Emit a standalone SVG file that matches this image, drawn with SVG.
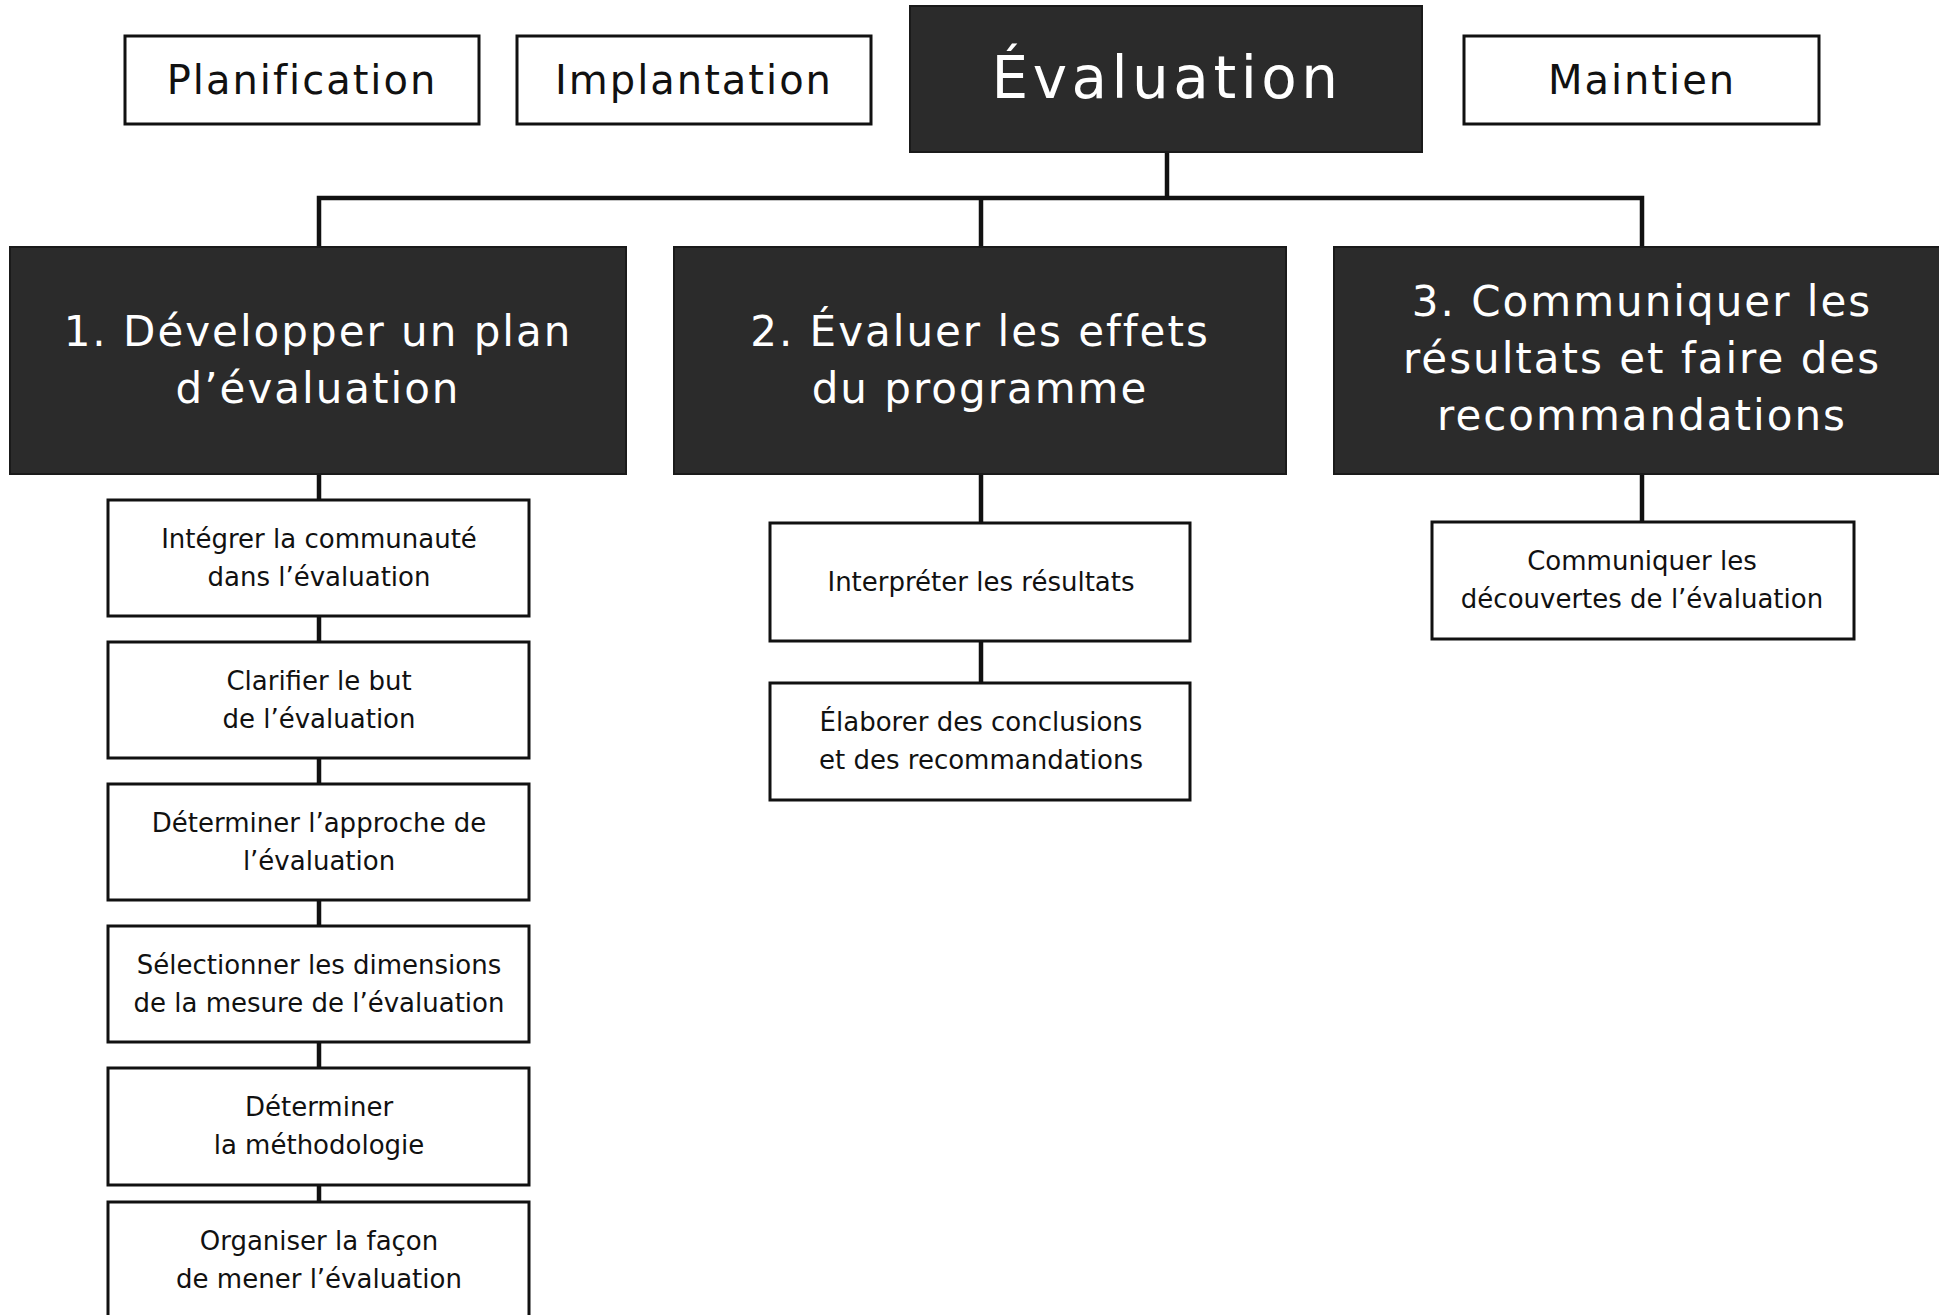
<svg xmlns="http://www.w3.org/2000/svg" width="1939" height="1315" viewBox="0 0 1939 1315">
<style>
.bg{fill:#ffffff}
.ob{fill:#ffffff;stroke:#111;stroke-width:3}
.db{fill:#2b2b2b;stroke:#1a1a1a;stroke-width:2}
.con{stroke:#111;stroke-width:4.5;fill:none}
.top{font-family:"DejaVu Sans",sans-serif;font-size:40px;fill:#111;text-anchor:middle;letter-spacing:2px}
.main{font-family:"DejaVu Sans",sans-serif;font-size:58px;fill:#fff;text-anchor:middle;letter-spacing:4.5px}
.hd{font-family:"DejaVu Sans",sans-serif;font-size:42px;fill:#fff;text-anchor:middle;letter-spacing:2px}
.sm{font-family:"DejaVu Sans",sans-serif;font-size:26px;fill:#111;text-anchor:middle}
</style>
<rect class="bg" x="0" y="0" width="1939" height="1315"/>
<g id="connectors">
<line class="con" x1="1167" y1="152" x2="1167" y2="198"/>
<polyline class="con" points="319,247 319,198 1642,198 1642,247"/>
<line class="con" x1="981" y1="198" x2="981" y2="247"/>
<line class="con" x1="319" y1="474" x2="319" y2="1202"/>
<line class="con" x1="981" y1="474" x2="981" y2="683"/>
<line class="con" x1="1642" y1="474" x2="1642" y2="522"/>
</g>
<g id="planification"><rect class="ob" x="125" y="36" width="354" height="88"/><text class="top" x="302" y="94">Planification</text></g>
<g id="implantation"><rect class="ob" x="517" y="36" width="354" height="88"/><text class="top" x="694" y="94">Implantation</text></g>
<g id="evaluation"><rect class="db" x="910" y="6" width="512" height="146"/><text class="main" x="1167" y="98">Évaluation</text></g>
<g id="maintien"><rect class="ob" x="1464" y="36" width="355" height="88"/><text class="top" x="1642" y="94">Maintien</text></g>
<g id="etape1"><rect class="db" x="10" y="247" width="616" height="227"/><text class="hd" x="318" y="346">1. Développer un plan</text><text class="hd" x="318" y="403">d’évaluation</text></g>
<g id="etape2"><rect class="db" x="674" y="247" width="612" height="227"/><text class="hd" x="980" y="346">2. Évaluer les effets</text><text class="hd" x="980" y="403">du programme</text></g>
<g id="etape3"><rect class="db" x="1334" y="247" width="610" height="227"/><text class="hd" x="1642" y="316">3. Communiquer les</text><text class="hd" x="1642" y="373">résultats et faire des</text><text class="hd" x="1642" y="430">recommandations</text></g>
<g id="b1a"><rect class="ob" x="108" y="500" width="421" height="116"/><text class="sm" x="319" y="548">Intégrer la communauté</text><text class="sm" x="319" y="586">dans l’évaluation</text></g>
<g id="b1b"><rect class="ob" x="108" y="642" width="421" height="116"/><text class="sm" x="319" y="690">Clarifier le but</text><text class="sm" x="319" y="728">de l’évaluation</text></g>
<g id="b1c"><rect class="ob" x="108" y="784" width="421" height="116"/><text class="sm" x="319" y="832">Déterminer l’approche de</text><text class="sm" x="319" y="870">l’évaluation</text></g>
<g id="b1d"><rect class="ob" x="108" y="926" width="421" height="116"/><text class="sm" x="319" y="974">Sélectionner les dimensions</text><text class="sm" x="319" y="1012">de la mesure de l’évaluation</text></g>
<g id="b1e"><rect class="ob" x="108" y="1068" width="421" height="117"/><text class="sm" x="319" y="1116">Déterminer</text><text class="sm" x="319" y="1154">la méthodologie</text></g>
<g id="b1f"><rect class="ob" x="108" y="1202" width="421" height="130"/><text class="sm" x="319" y="1250">Organiser la façon</text><text class="sm" x="319" y="1288">de mener l’évaluation</text></g>
<g id="b2a"><rect class="ob" x="770" y="523" width="420" height="118"/><text class="sm" x="981" y="591">Interpréter les résultats</text></g>
<g id="b2b"><rect class="ob" x="770" y="683" width="420" height="117"/><text class="sm" x="981" y="731">Élaborer des conclusions</text><text class="sm" x="981" y="769">et des recommandations</text></g>
<g id="b3a"><rect class="ob" x="1432" y="522" width="422" height="117"/><text class="sm" x="1642" y="570">Communiquer les</text><text class="sm" x="1642" y="608">découvertes de l’évaluation</text></g>
</svg>
